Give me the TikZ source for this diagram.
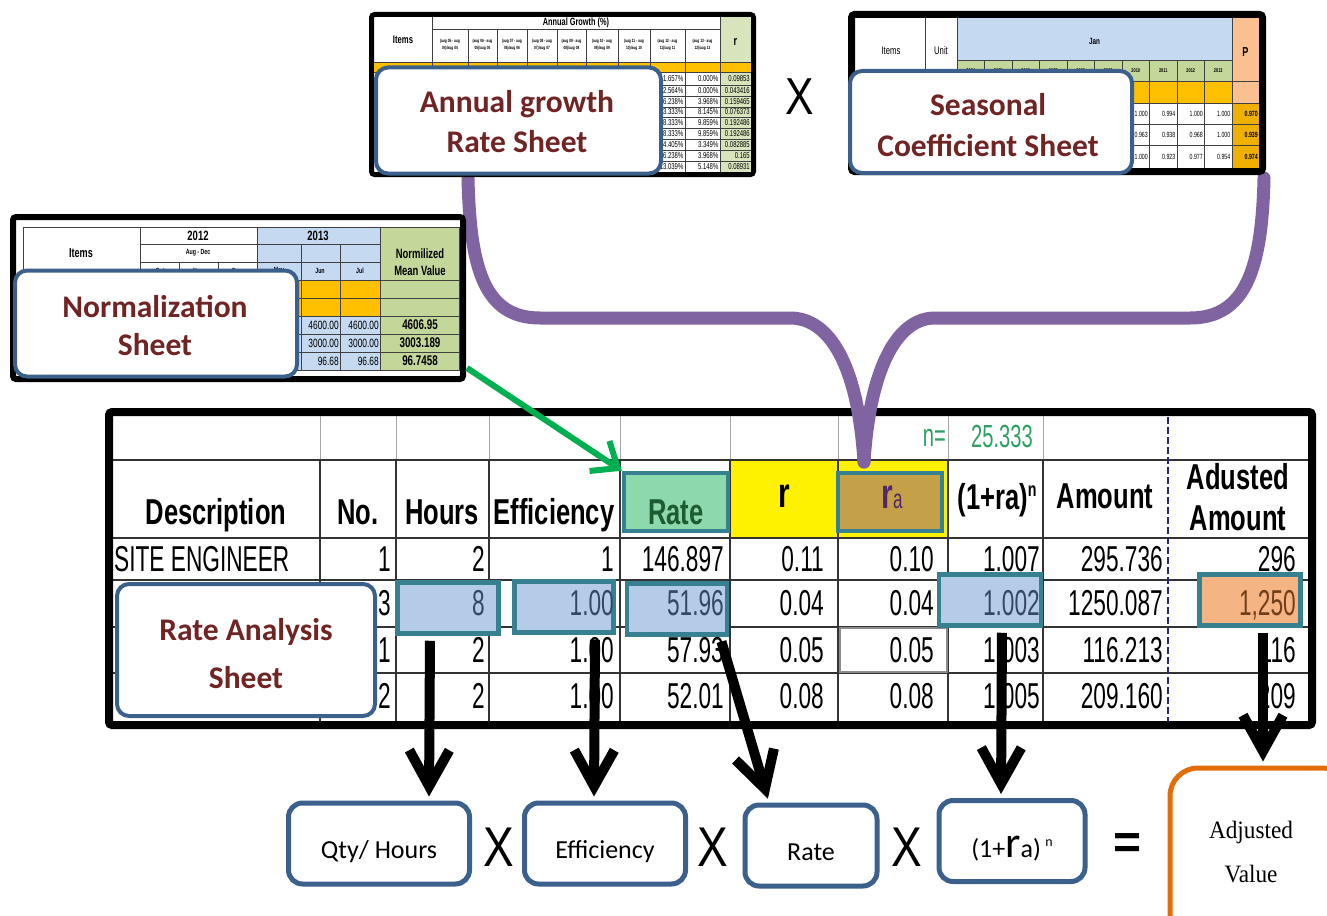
\documentclass[tikz,border=0pt]{standalone}
\usepackage{fontspec}
\usetikzlibrary{arrows.meta}
\setmainfont{Liberation Sans}
\newfontfamily\narr[FakeStretch=0.63]{Liberation Sans}
\newfontfamily\narb[FakeStretch=0.71]{Liberation Sans}
\newfontfamily\mini[FakeStretch=0.7]{Liberation Sans}
\newfontfamily\opfont[FakeStretch=0.82]{Liberation Sans}
\newfontfamily\calb{Carlito}
\newfontfamily\sernar[FakeStretch=0.93]{Liberation Serif}
\newcommand\fsz[2]{\fontsize{#1}{#2}\selectfont}

\definecolor{frameblue}{RGB}{60,96,140}
\definecolor{calltext}{RGB}{112,36,36}
\definecolor{hiteal}{RGB}{55,128,145}
\definecolor{cellblue}{RGB}{181,204,232}
\definecolor{celltext}{RGB}{52,72,102}
\definecolor{ratemint}{RGB}{142,216,174}
\definecolor{ratetext}{RGB}{28,92,48}
\definecolor{rakhaki}{RGB}{196,160,72}
\definecolor{ratxt}{RGB}{82,40,104}
\definecolor{adjorange}{RGB}{244,180,132}
\definecolor{adjtxt}{RGB}{112,62,24}
\definecolor{xlorange}{RGB}{255,192,0}
\definecolor{xlgreen}{RGB}{196,215,155}
\definecolor{xlpale}{RGB}{216,228,188}
\definecolor{xlblue}{RGB}{197,217,241}
\definecolor{xlpeach}{RGB}{250,192,144}
\definecolor{xlgold}{RGB}{240,176,0}
\definecolor{bracepurple}{RGB}{128,100,162}
\definecolor{arrowgreen}{RGB}{0,176,80}
\definecolor{ngreen}{RGB}{46,160,100}
\definecolor{eqorange}{RGB}{228,108,10}
\definecolor{dashnavy}{RGB}{40,40,120}

\begin{document}
\begin{tikzpicture}[x=1pt,y=-1pt,
  every node/.append style={inner sep=0pt},
  sheetframe/.style={draw=black,rounded corners=3pt,fill=white},
  mgrid/.style={draw=black!75,line width=0.6pt},
  callout/.style={draw=frameblue,line width=4pt,fill=white,rounded corners=12pt},
  callfont/.style={text=calltext,font=\calb\bfseries\fsz{31.5}{37},anchor=base},
  tgrid/.style={draw=black!80,line width=1.1pt},
  hibox/.style={draw=hiteal,line width=4.5pt},
  tnum/.style={font=\narr\fsz{36}{40},anchor=base east},
  thead/.style={font=\narb\bfseries\fsz{36}{40},anchor=base},
  bigarrow/.style={line width=10pt,-{Straight Barb[length=36pt,width=40pt]},shorten >=4pt,shorten <=5pt},
  fbox/.style={draw=frameblue,line width=5pt,rounded corners=14pt,fill=white},
  ftext/.style={font=\calb\fsz{26}{30},anchor=base},
  opsign/.style={font=\opfont\fsz{56}{56}},
  brace/.style={draw=bracepurple,line width=13pt,line cap=round},
]
\useasboundingbox (0,0) rectangle (1327,915);
\fill[white] (0,0) rectangle (1327,915);

% ---------- rate analysis table ----------
\draw[line width=8pt,rounded corners=3pt,fill=white] (109,412) rectangle (1312,725);
\fill[yellow] (730,460) rectangle (948,538);
\foreach \x in {320,396,489,620,730,838,948,1043}
  \draw[draw=black!35,line width=0.8pt] (\x,416) -- (\x,460);
\foreach \x in {320,396,489,620,730,838,948,1043}
  \draw[tgrid] (\x,460) -- (\x,721);
\foreach \y in {460,538,580,627,673}
  \draw[tgrid] (113,\y) -- (1308,\y);
\draw[dashnavy,line width=1.2pt,dash pattern=on 7pt off 3pt] (1168,417) -- (1168,721);
\draw[black!45,line width=1.8pt] (840,628) rectangle (947,672);

% header row
\node[font=\narr\fsz{32}{34},text=ngreen,anchor=base east] (neq) at (946,446) {n=};
\node[font=\narr\fsz{32}{34},text=ngreen,anchor=base] (nval) at (1002,447) {25.333};
\node[thead] (hdesc) at (216,524) {Description};
\node[thead] (hno) at (358,524) {No.};
\node[thead] (hhrs) at (442,524) {Hours};
\node[thead] (heff) at (554,524) {Efficiency};
\node[hibox,fill=ratemint,minimum width=104pt,minimum height=58pt] (rateh) at (676,502) {};
\node[thead,text=ratetext] (hrate) at (676,524) {Rate};
\node[thead,font=\narb\bfseries\fsz{42}{44}] (hr) at (784,507) {r};
\node[hibox,fill=rakhaki,minimum width=104pt,minimum height=58pt] (rah) at (890,502) {};
\node[anchor=base,text=ratxt] (hra) at (892,508) {{\narb\bfseries\fsz{42}{44}r}{\narr\fsz{27}{27}a}};
\node[thead] (hfac) at (997,509) {(1+ra)\raisebox{13pt}{\fsz{20}{20}n}};
\node[thead] (hamt) at (1105,508) {Amount};
\node[thead] (hadj1) at (1238,489) {Adusted};
\node[thead] (hadj2) at (1238,530) {Amount};

% highlighted cells of the second row
\node[hibox,fill=cellblue,minimum width=101pt,minimum height=51pt] (hrsh) at (448,608) {};
\node[hibox,fill=cellblue,minimum width=99pt,minimum height=51pt] (effh) at (564,607) {};
\node[hibox,fill=cellblue,minimum width=100pt,minimum height=51pt] (rateval) at (677,609) {};
\node[hibox,fill=cellblue,minimum width=102pt,minimum height=51pt] (fach) at (990,600) {};
\node[hibox,fill=adjorange,minimum width=101pt,minimum height=51pt] (adjh) at (1250,600) {};

% body rows
\node[tnum,anchor=base west] (desc1) at (114,571) {SITE ENGINEER};
\node[tnum,anchor=base west] (desc2) at (114,615) {S};
\foreach \yb/\no/\hv/\ev/\rt/\rv/\rav/\fv/\am/\ad/\hc/\ac [count=\i] in {
  571/1/2/1/146.897/0.11/0.10/1.007/295.736/296/black/black,
  615/3/8/1.00/51.96/0.04/0.04/1.002/1250.087/{1,250}/celltext/adjtxt,
  662/1/2/1.00/57.93/0.05/0.05/1.003/116.213/116/black/black,
  708/2/2/1.00/52.01/0.08/0.08/1.005/209.160/209/black/black}{
  \node[tnum] (no\i) at (391,\yb) {\no};
  \node[tnum,text=\hc] (hv\i) at (485,\yb) {\hv};
  \node[tnum,text=\hc] (ev\i) at (614,\yb) {\ev};
  \node[tnum,text=\hc] (rt\i) at (724,\yb) {\rt};
  \node[tnum] (rv\i) at (824,\yb) {\rv};
  \node[tnum] (rav\i) at (934,\yb) {\rav};
  \node[tnum,text=\hc] (fv\i) at (1040,\yb) {\fv};
  \node[tnum] (am\i) at (1163,\yb) {\am};
  \node[tnum,text=\ac] (ad\i) at (1296,\yb) {\ad};
}

% label of the table
\node[callout,minimum width=258pt,minimum height=132pt] (racall) at (246,650) {};
\node[callfont] (ratxt1) at (246,640) {Rate Analysis};
\node[callfont] (ratxt2) at (246,688) {Sheet};

% ---------- purple brace feeding r_a ----------
\coordinate (agfoot) at (468,178);
\coordinate (scfoot) at (1264,178);
\coordinate (bracetip) at (864,462);
\draw[brace] (agfoot) .. controls (470,268) and (484,318) .. (540,318) -- (790,318)
  .. controls (830,318) and (858,366) .. (bracetip);
\draw[brace] (scfoot) .. controls (1262,268) and (1246,318) .. (1190,318) -- (935,318)
  .. controls (898,318) and (870,366) .. (bracetip);

% ---------- annual growth sheet ----------
\draw[sheetframe,line width=5pt] (371.5,14.5) rectangle (753.5,174.5);
\fill[xlpale] (720,17) rectangle (751,62);
\fill[xlorange] (374,62) rectangle (751,72);
\fill[xlpale] (720,72) rectangle (751,172);
\draw[mgrid] (432,29) -- (720,29);
\foreach \y in {62,72,85,96,107,117,128,139,150,161}
  \draw[mgrid] (374,\y) -- (751,\y);
\foreach \x in {432,720} \draw[mgrid] (\x,17) -- (\x,172);
\foreach \x in {468,497,527,557,586,618,650,685} \draw[mgrid] (\x,29) -- (\x,172);
\node[font=\mini\bfseries\fsz{11}{12}] (agitems) at (403,40) {Items};
\node[font=\mini\bfseries\fsz{10.5}{12}] (aghead) at (576,23) {Annual Growth (\%)};
\node[font=\mini\bfseries\fsz{13}{13}] (agr) at (735.5,42) {r};
\foreach \xa/\xb/\pa/\pb in {432/468/05/04,468/497/06/05,497/527/07/06,527/557/08/07,
    557/586/09/08,586/618/10/09,618/650/11/10,650/685/12/11,685/720/13/12}
  \node[font=\mini\bfseries\fsz{4.6}{6.4},align=center] at ({(\xa+\xb)/2},45)
    {(aug \pa{} - aug\\\pb)/aug \pb};
\foreach \y/\ua/\ub/\uc in {78.5/1.657/0.000/0.09853, 90.5/2.564/0.000/0.043416,
    101.5/16.238/3.968/0.159465, 112/13.333/8.145/0.076373, 122.5/18.333/9.859/0.192486,
    133.5/18.333/9.859/0.192486, 144.5/34.405/3.349/0.082885, 155.5/16.238/3.968/0.165,
    166.5/13.039/5.148/0.08931}{
  \node[font=\mini\fsz{8.5}{9},anchor=east] at (683.5,\y) {\ua\%};
  \node[font=\mini\fsz{8.5}{9},anchor=east] at (718.5,\y) {\ub\%};
  \node[font=\mini\fsz{8.5}{9},anchor=east] at (750,\y) {\uc};
}
\node[callout,minimum width=285pt,minimum height=106pt] (agcall) at (518.5,120.5) {};
\node[callfont] (agtxt1) at (517,113) {Annual growth};
\node[callfont] (agtxt2) at (517,153) {Rate Sheet};

% ---------- seasonal coefficient sheet ----------
\draw[sheetframe,line width=7pt] (851.5,14.5) rectangle (1262.5,171.5);
\fill[xlblue] (957,18) rectangle (1232,60);
\fill[xlgreen] (957,60) rectangle (1232,81);
\fill[xlorange] (855,81) rectangle (1232,103);
\fill[xlpeach] (1232,18) rectangle (1259,103);
\fill[xlgold] (1232,103) rectangle (1259,168);
\draw[mgrid] (957,60) -- (1232,60);
\foreach \y in {81,103,124,145} \draw[mgrid] (855,\y) -- (1259,\y);
\foreach \x in {925,957,1232} \draw[mgrid] (\x,18) -- (\x,168);
\foreach \x in {984.5,1012,1039.5,1067,1094.5,1122,1149.5,1177,1204.5}
  \draw[mgrid] (\x,60) -- (\x,168);
\node[font=\mini\fsz{11}{12}] (scitems) at (891,51) {Items};
\node[font=\mini\fsz{11}{12}] (scunit) at (941,51) {Unit};
\node[font=\mini\bfseries\fsz{9}{10}] (scjan) at (1094.5,41) {Jan};
\node[font=\mini\bfseries\fsz{13}{13}] (scp) at (1245.5,52) {P};
\foreach \yr [count=\k] in {2004,...,2013}
  \node[font=\mini\bfseries\fsz{5.5}{6}] at ({957+27.5*\k-13.75},70.5) {\yr};
\foreach \y/\va/\vb/\vc/\vd/\pv in {113.5/1.000/0.994/1.000/1.000/0.970,
    134.5/0.963/0.938/0.968/1.000/0.939, 156.5/1.000/0.923/0.977/0.954/0.974}{
  \node[font=\mini\fsz{7.5}{8},anchor=east] at (1148,\y) {\va};
  \node[font=\mini\fsz{7.5}{8},anchor=east] at (1175.5,\y) {\vb};
  \node[font=\mini\fsz{7.5}{8},anchor=east] at (1203,\y) {\vc};
  \node[font=\mini\fsz{7.5}{8},anchor=east] at (1230.5,\y) {\vd};
  \node[font=\mini\bfseries\fsz{7.5}{8},anchor=east] at (1258,\y) {\pv};
}
\node[callout,minimum width=282pt,minimum height=102pt] (sccall) at (991,122) {};
\node[callfont] (sctxt1) at (988,116) {Seasonal};
\node[callfont] (sctxt2) at (988,156) {Coefficient Sheet};

\node[opsign,font=\opfont\fsz{52}{52}] (xtop) at (800,97) {X};

% ---------- normalization sheet ----------
\draw[sheetframe,line width=6pt] (13,217) rectangle (463,379);
\fill[xlblue] (257,227) rectangle (380,280);
\fill[xlorange] (23,280) rectangle (380,316);
\fill[xlblue] (257,316) rectangle (380,370);
\fill[xlgreen] (380,227) rectangle (459,370);
\draw[mgrid,line width=0.9pt] (23,227) rectangle (459,370);
\foreach \y in {244,262} \draw[mgrid,line width=0.9pt] (140,\y) -- (380,\y);
\foreach \y in {280,298,316,334,352} \draw[mgrid,line width=0.9pt] (23,\y) -- (459,\y);
\foreach \x in {140,257,380} \draw[mgrid,line width=0.9pt] (\x,227) -- (\x,370);
\foreach \x in {179,218} \draw[mgrid,line width=0.9pt] (\x,262) -- (\x,370);
\foreach \x in {301,340} \draw[mgrid,line width=0.9pt] (\x,244) -- (\x,370);
\node[font=\mini\bfseries\fsz{13}{14}] (nsitems) at (81,253) {Items};
\node[font=\mini\bfseries\fsz{13.5}{14}] (ns2012) at (198,236) {2012};
\node[font=\mini\bfseries\fsz{7.5}{8}] (nsaug) at (198,253) {Aug - Dec};
\node[font=\mini\bfseries\fsz{13.5}{14}] (ns2013) at (318,236) {2013};
\foreach \mx/\mn in {160/Oct,198/Nov,237/Dec,279/May,320/Jun,360/Jul}
  \node[font=\mini\bfseries\fsz{7.5}{8}] at (\mx,271) {\mn};
\node[font=\mini\bfseries\fsz{13.5}{14}] (nsnorm1) at (420,254) {Normilized};
\node[font=\mini\bfseries\fsz{13.5}{14}] (nsnorm2) at (420,271) {Mean Value};
\foreach \y/\va/\vb in {325/4600.00/4606.95, 343/3000.00/3003.189, 361/96.68/96.7458}{
  \node[font=\mini\fsz{12}{13},anchor=east] at (339,\y) {\va};
  \node[font=\mini\fsz{12}{13},anchor=east] at (379,\y) {\va};
  \node[font=\mini\bfseries\fsz{14}{15}] at (420,\y) {\vb};
}
\node[callout,minimum width=282pt,minimum height=106pt] (nscall) at (156,323.5) {};
\node[callfont] (nstxt1) at (155,317) {Normalization};
\node[callfont] (nstxt2) at (155,355) {Sheet};

% green arrow from the normalised mean value to the rate header
\coordinate (nsout) at (467,368);
\draw[draw=arrowgreen,line width=6pt,-{Straight Barb[length=22pt,width=36pt]}] (nsout) -- (rateh.north west);

% ---------- formula boxes ----------
\node[fbox,minimum width=181pt,minimum height=81pt] (qty) at (379,843.5) {};
\node[fbox,minimum width=161pt,minimum height=81pt] (effb) at (605,843.5) {};
\node[fbox,minimum width=132pt,minimum height=81pt] (rateb) at (811,845.5) {};
\node[fbox,minimum width=146pt,minimum height=81pt] (facb) at (1012,841) {};
\node[draw=eqorange,line width=5pt,rounded corners=28pt,fill=white,
      minimum width=180pt,minimum height=175pt] (adjb) at (1260,855.5) {};
\node[ftext] (qtyt) at (379,858) {Qty/ Hours};
\node[ftext] (efft) at (605,858) {Efficiency};
\node[ftext] (ratet) at (811,860) {Rate};
\node[ftext] (fact) at (1012,857) {(1+{\fsz{44}{44}r}a)\,\raisebox{11pt}{\fsz{14}{14}n}};
\node[font=\sernar\fsz{25}{30},anchor=base] (adjt1) at (1251,838) {Adjusted};
\node[font=\sernar\fsz{25}{30},anchor=base] (adjt2) at (1251,882) {Value};
\node[opsign] (x1) at (499,847) {X};
\node[opsign] (x2) at (713,847) {X};
\node[opsign] (x3) at (907,847) {X};
\node[font=\bfseries\fsz{48}{48}] (eq) at (1127,846) {=};

% ---------- arrows from the highlighted cells ----------
\draw[bigarrow] ([xshift=-18pt]hrsh.south) -- ([xshift=50pt]qty.north);
\draw[bigarrow] ([xshift=31pt]effh.south) -- ([xshift=-11pt]effb.north);
\draw[bigarrow] ([xshift=43pt]rateval.south) -- ([xshift=-42pt]rateb.north);
\draw[bigarrow] ([xshift=12pt]fach.south) -- ([xshift=-11pt]facb.north);
\draw[bigarrow] ([xshift=13pt]adjh.south) -- ([xshift=3pt]adjb.north);
\end{tikzpicture}
\end{document}
